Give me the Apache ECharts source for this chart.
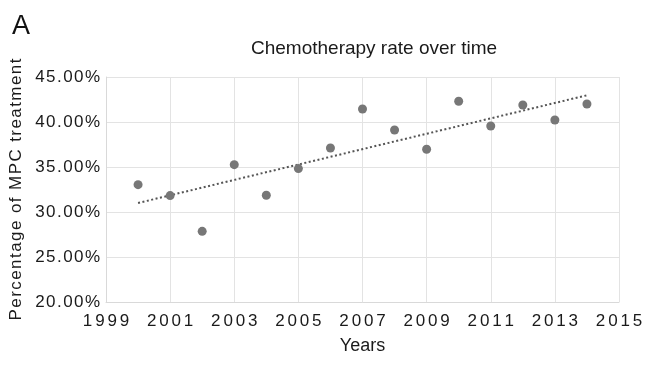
<!DOCTYPE html>
<html><head><meta charset="utf-8">
<script src="https://cdn.jsdelivr.net/npm/echarts@6/dist/echarts.min.js"></script>
<style>html,body{margin:0;padding:0;background:#fff}#c{width:645px;height:370px}</style>
</head><body><div id="c"></div>
<script>
const years = [2000,2001,2002,2003,2004,2005,2006,2007,2008,2009,2010,2011,2012,2013,2014];
const rates = [33.04,31.82,27.85,35.26,31.86,34.82,37.11,41.44,39.11,36.97,42.3,39.56,41.89,40.22,42.0];
const trendYears = [2000,2014];
const trendRates = [31.0,42.97];
const yTicks = [20,25,30,35,40,45];

const FONT = 'Liberation Sans';
const sp = (s, n=1) => String(s).split('').join('\u200A'.repeat(n));
const chart = echarts.init(document.getElementById('c'), null, {renderer:'canvas'});
chart.setOption({
  animation:false,
  textStyle:{fontFamily:FONT},
  title:[
    {text:'Chemotherapy rate over time', left:369, top:34, textAlign:'center',
     textStyle:{fontFamily:FONT,fontSize:19,fontWeight:'normal',color:'#1a1a1a'}},
    {text:'A', left:7, top:8, textStyle:{fontFamily:FONT,fontSize:27,fontWeight:'normal',color:'#111'}}
  ],
  grid:{left:106,right:26,top:77,bottom:68,containLabel:false,outerBoundsMode:'none'},
  xAxis:{type:'value',min:1999,max:2015,interval:2,
    name:'Years',nameLocation:'middle',nameGap:35,
    nameTextStyle:{fontFamily:FONT,fontSize:18,color:'#1a1a1a'},
    axisLine:{show:true,lineStyle:{color:'#d9d9d9'}},
    axisTick:{show:false},
    splitLine:{show:true,lineStyle:{color:'#e3e3e3'}},
    axisLabel:{fontFamily:FONT,fontSize:17,color:'#1a1a1a',margin:11,formatter:v=>sp(v,2)}
  },
  yAxis:{type:'value',min:yTicks[0],max:yTicks[yTicks.length-1],interval:5,
    name:sp('Percentage of MPC treatment'),nameLocation:'middle',nameGap:78,
    nameTextStyle:{fontFamily:FONT,fontSize:17,color:'#1a1a1a'},
    axisLine:{show:true,lineStyle:{color:'#d9d9d9'}},
    axisTick:{show:false},
    splitLine:{show:true,lineStyle:{color:'#e3e3e3'}},
    axisLabel:{fontFamily:FONT,fontSize:17,color:'#1a1a1a',margin:6,formatter:v=>sp(v.toFixed(2)+'%')}
  },
  series:[
    {type:'line',data:trendYears.map((x,i)=>[x,trendRates[i]]),symbol:'none',
     lineStyle:{type:[2,2.5],width:2,color:'#555'},z:2},
    {type:'scatter',data:years.map((x,i)=>[x,rates[i]]),symbolSize:9,
     itemStyle:{color:'#777',opacity:1},z:3}
  ]
});
</script></body></html>
